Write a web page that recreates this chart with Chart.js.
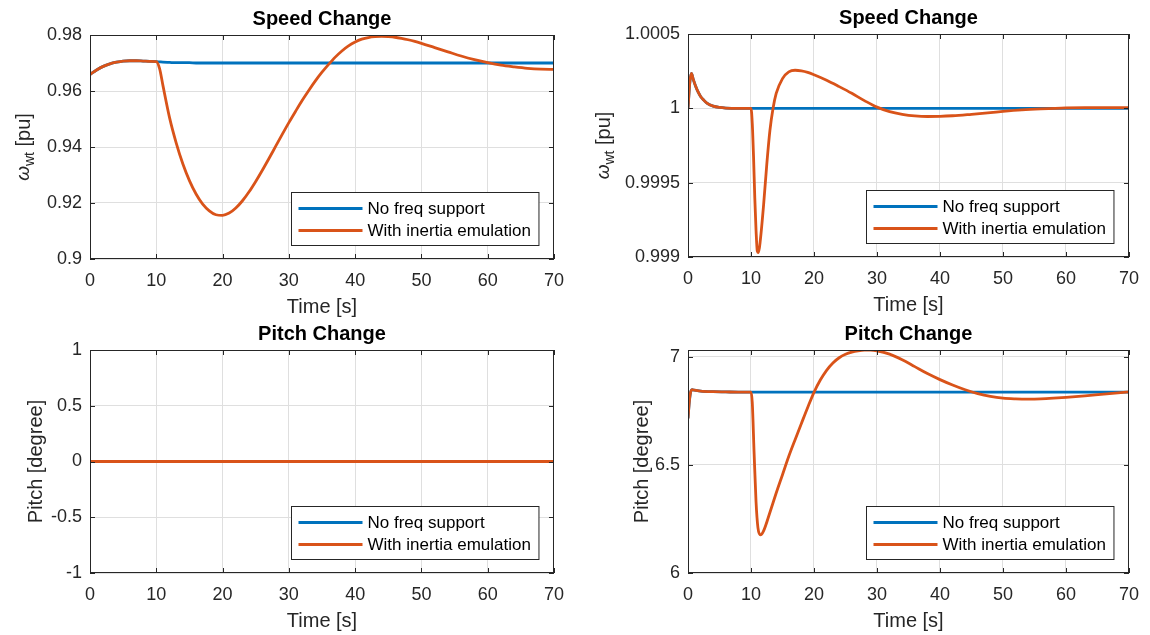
<!DOCTYPE html>
<html>
<head>
<meta charset="utf-8">
<script src="https://cdn.jsdelivr.net/npm/chart.js@4.4.1/dist/chart.umd.min.js"></script>
<style>
  html, body { margin: 0; padding: 0; background: #fff; }
  #wrap { position: relative; width: 1150px; height: 635px; }
  canvas { position: absolute; }
</style>
</head>
<body>
<div id="wrap">
  <canvas id="speedA" width="575" height="317" style="left:0;top:0"></canvas>
  <canvas id="speedB" width="575" height="317" style="left:575px;top:0"></canvas>
  <canvas id="pitchA" width="575" height="318" style="left:0;top:317px"></canvas>
  <canvas id="pitchB" width="575" height="318" style="left:575px;top:317px"></canvas>
</div>
<script>
const legendLabels = ['No freq support', 'With inertia emulation'];
const seriesColors = ['#0072BD', '#D95319'];
const xTickStep = 10;

// top left: speed change (case A)
const speedTimeA = [0, 1, 2, 3, 4, 5, 6, 7, 8, 9, 10, 10.5, 11, 12, 13, 14, 15, 16, 17, 18, 19, 20,
  21, 22, 23, 24, 25, 26, 27, 28, 29, 30, 31, 32, 33, 34, 35, 36, 37, 38, 39, 40,
  41, 42, 43, 44, 45, 46, 47, 48, 49, 50, 52, 54, 56, 58, 60, 62, 64, 66, 68, 70];
const speedNoSupportA = [0.9659, 0.9675, 0.9688, 0.9697, 0.9703, 0.9707, 0.9708, 0.9708, 0.9707, 0.9706, 0.9705,
  0.9704, 0.9703, 0.9702, 0.9701, 0.9701, 0.9701, 0.97, 0.97, 0.97, 0.97, 0.97,
  0.97, 0.97, 0.97, 0.97, 0.97, 0.97, 0.97, 0.97, 0.97, 0.97, 0.97, 0.97, 0.97, 0.97, 0.97, 0.97, 0.97, 0.97, 0.97, 0.97,
  0.97, 0.97, 0.97, 0.97, 0.97, 0.97, 0.97, 0.97, 0.97, 0.97, 0.97, 0.97, 0.97, 0.97, 0.97, 0.97, 0.97, 0.97, 0.97, 0.97];
const speedInertiaA = [0.9659, 0.9675, 0.9688, 0.9697, 0.9703, 0.9707, 0.9708, 0.9708, 0.9707, 0.9706, 0.9705,
  0.968, 0.962, 0.9505, 0.9415, 0.934, 0.928, 0.9232, 0.9196, 0.9172, 0.9158, 0.9156,
  0.9164, 0.9182, 0.9208, 0.924, 0.9277, 0.9317, 0.9359, 0.9402, 0.9445, 0.9487, 0.9527, 0.9566, 0.9602,
  0.9636, 0.9667, 0.9695, 0.9721, 0.9743, 0.9761, 0.9775, 0.9785, 0.9791, 0.9794, 0.9795, 0.9794, 0.9792,
  0.9788, 0.9783, 0.9777, 0.977, 0.9755, 0.974, 0.9725, 0.9712, 0.9701, 0.9692, 0.9686, 0.9681, 0.9678, 0.9677];

// top right: speed change (case B)
const speedTimeB = [0, 0.3, 0.55, 0.8, 1.2, 1.6, 2, 2.5, 3, 4, 5, 6, 8, 10, 10.2, 10.4, 10.6, 10.8, 11, 11.2,
  11.5, 12, 12.5, 13, 13.5, 14, 15, 16, 17, 18, 19, 20, 22, 24, 26, 28, 30, 32, 34, 36, 38, 40, 42,
  45, 48, 50, 53, 56, 60, 63, 66, 70];
const speedNoSupportB = [1.0, 1.00018, 1.000235, 1.0002, 1.00015, 1.00011, 1.00008, 1.000055, 1.000035, 1.000015,
  1.000006, 1.000002, 1.0, 1.0, 1.0, 1.0, 1.0, 1.0, 1.0, 1.0,
  1.0, 1.0, 1.0, 1.0, 1.0, 1.0, 1.0, 1.0, 1.0, 1.0, 1.0, 1.0, 1.0, 1.0, 1.0, 1.0, 1.0, 1.0, 1.0, 1.0, 1.0, 1.0, 1.0,
  1.0, 1.0, 1.0, 1.0, 1.0, 1.0, 1.0, 1.0, 1.0];
const speedInertiaB = [1.0, 1.00018, 1.000235, 1.0002, 1.00015, 1.00011, 1.00008, 1.000055, 1.000035, 1.000015,
  1.000006, 1.000002, 1.0, 1.0, 0.9999, 0.99968, 0.9994, 0.99918, 0.99904, 0.99903,
  0.99912, 0.99935, 0.99962, 0.99985, 1.0, 1.0001, 1.0002, 1.000245, 1.000256, 1.000252, 1.000242, 1.000226,
  1.000189, 1.000146, 1.000101, 1.000052, 1.000008, 0.999978, 0.99996, 0.999949, 0.999945, 0.999946, 0.99995,
  0.99996, 0.999971, 0.999979, 0.999989, 0.999996, 1.000003, 1.000005, 1.000005, 1.000004];

// bottom left: pitch change (case A)
const pitchTimeA = [0, 10, 20, 30, 40, 50, 60, 70];
const pitchNoSupportA = [0, 0, 0, 0, 0, 0, 0, 0];
const pitchInertiaA = [0, 0, 0, 0, 0, 0, 0, 0];

// bottom right: pitch change (case B)
const pitchTimeB = [0, 0.2, 0.4, 0.7, 1, 2, 4, 6, 8, 10, 10.2, 10.5, 10.8, 11.1, 11.5, 12, 13, 14, 15, 16,
  17, 18, 19, 20, 21, 22, 23, 24, 25, 26, 27, 28, 29, 30, 32, 34, 36, 38, 40, 42, 44, 46, 48, 50,
  52, 54, 56, 58, 60, 63, 66, 70];
const pitchNoSupportB = [6.715, 6.79, 6.835, 6.848, 6.846, 6.842, 6.839, 6.838, 6.837, 6.837, 6.837, 6.837,
  6.837, 6.837, 6.837, 6.837, 6.837, 6.837, 6.837, 6.837, 6.837, 6.837, 6.837, 6.837, 6.837, 6.837, 6.837,
  6.837, 6.837, 6.837, 6.837, 6.837, 6.837, 6.837, 6.837, 6.837, 6.837, 6.837, 6.837, 6.837, 6.837, 6.837,
  6.837, 6.837, 6.837, 6.837, 6.837, 6.837, 6.837, 6.837, 6.837, 6.837];
const pitchInertiaB = [6.715, 6.79, 6.835, 6.848, 6.846, 6.842, 6.839, 6.838, 6.837, 6.837, 6.79, 6.55,
  6.33, 6.21, 6.176, 6.195, 6.28, 6.37, 6.455, 6.54, 6.617, 6.692, 6.766, 6.836, 6.893, 6.938, 6.972, 6.996,
  7.012, 7.022, 7.028, 7.031, 7.031, 7.028, 7.013, 6.987, 6.955, 6.923, 6.895, 6.87, 6.848, 6.83, 6.817,
  6.809, 6.806, 6.805, 6.806, 6.809, 6.813, 6.82, 6.828, 6.838];

const FONT = '"Liberation Sans", Arial, Helvetica, sans-serif';
const INK = '#262626';

function fmt(v) { return String(+v.toFixed(6)); }

const matlabFrame = {
  id: 'matlabFrame',
  afterDatasetsDraw(chart, args, o) {
    const { ctx, chartArea: a, scales } = chart;
    ctx.save();
    // box with inward ticks on all sides
    ctx.strokeStyle = INK;
    ctx.lineWidth = 1;
    ctx.strokeRect(a.left + 0.5, a.top + 0.5, a.right - a.left - 1, a.bottom - a.top - 1);
    ctx.beginPath();
    scales.x.ticks.forEach(t => {
      const px = Math.round(scales.x.getPixelForValue(t.value)) + 0.5;
      ctx.moveTo(px, a.bottom); ctx.lineTo(px, a.bottom - 5);
      ctx.moveTo(px, a.top); ctx.lineTo(px, a.top + 5);
    });
    scales.y.ticks.forEach(t => {
      const py = Math.round(scales.y.getPixelForValue(t.value)) + 0.5;
      ctx.moveTo(a.left, py); ctx.lineTo(a.left + 5, py);
      ctx.moveTo(a.right, py); ctx.lineTo(a.right - 5, py);
    });
    ctx.stroke();

    // legend box, lower right inside the axes
    ctx.font = '17px ' + FONT;
    const textW = Math.max(...legendLabels.map(s => ctx.measureText(s).width));
    const boxW = 76 + textW + 8, boxH = 53;
    const bx = Math.round(a.right - 16 - boxW) + 0.5, by = Math.round(a.bottom - 14 - boxH) + 0.5;
    ctx.fillStyle = '#fff';
    ctx.fillRect(bx, by, boxW, boxH);
    ctx.strokeStyle = INK;
    ctx.strokeRect(bx, by, boxW, boxH);
    chart.data.datasets.forEach((ds, i) => {
      const ry = by + 16 + i * 22;
      ctx.strokeStyle = ds.borderColor;
      ctx.lineWidth = 2.8;
      ctx.beginPath();
      ctx.moveTo(bx + 7, ry); ctx.lineTo(bx + 71, ry);
      ctx.stroke();
      ctx.fillStyle = '#000';
      ctx.textAlign = 'left';
      ctx.textBaseline = 'middle';
      ctx.fillText(ds.label, bx + 76, ry + 1);
    });

    // title
    const cx = (a.left + a.right) / 2;
    ctx.fillStyle = '#000';
    ctx.textAlign = 'center';
    ctx.textBaseline = 'middle';
    ctx.font = 'bold 20px ' + FONT;
    ctx.fillText(o.title, cx, a.top - 16);

    // x axis title
    ctx.fillStyle = INK;
    ctx.font = '20px ' + FONT;
    ctx.fillText('Time [s]', cx, a.bottom + 48);

    // y axis title (rotated)
    const cy = (a.top + a.bottom) / 2;
    ctx.translate(a.left - o.yLabelOffset, cy);
    ctx.rotate(-Math.PI / 2);
    ctx.textAlign = 'left';
    ctx.textBaseline = 'middle';
    if (o.omega) {
      const parts = [
        { t: '\u03C9', f: 'italic 19px ' + FONT, dy: 0 },
        { t: 'wt', f: '14px ' + FONT, dy: 6 },
        { t: ' [pu]', f: '20px ' + FONT, dy: 0 }
      ];
      let total = 0;
      parts.forEach(p => { ctx.font = p.f; p.w = ctx.measureText(p.t).width; total += p.w; });
      let x = -total / 2;
      parts.forEach(p => { ctx.font = p.f; ctx.fillText(p.t, x, p.dy); x += p.w; });
    } else {
      ctx.textAlign = 'center';
      ctx.fillText(o.yLabel, 0, 0);
    }
    ctx.restore();
  }
};

function makeChart(id, c) {
  const toPoints = (xs, ys) => xs.map((x, i) => ({ x: x, y: ys[i] }));
  return new Chart(document.getElementById(id), {
    type: 'line',
    data: {
      datasets: [
        { label: legendLabels[0], data: toPoints(c.times, c.blue), borderColor: seriesColors[0],
          borderWidth: 2.8, pointRadius: 0, cubicInterpolationMode: 'monotone', order: 2 },
        { label: legendLabels[1], data: toPoints(c.times, c.orange), borderColor: seriesColors[1],
          borderWidth: 2.8, pointRadius: 0, cubicInterpolationMode: 'monotone', order: 1 }
      ]
    },
    options: {
      responsive: false,
      animation: false,
      events: [],
      layout: { padding: { top: c.padTop, right: c.padRight, left: 0, bottom: 0 } },
      plugins: {
        legend: { display: false },
        tooltip: { enabled: false },
        title: { display: false },
        matlabFrame: { title: c.title, yLabel: c.yLabel, omega: c.omega, yLabelOffset: c.yLabelOffset }
      },
      scales: {
        x: {
          type: 'linear', min: 0, max: 70,
          grid: { color: '#dfdfdf', drawTicks: false },
          border: { display: false },
          ticks: { stepSize: xTickStep, padding: 11, color: INK, font: { family: FONT, size: 18 },
            maxRotation: 0, callback: fmt },
          afterFit: s => { s.height = c.xAxisH; }
        },
        y: {
          type: 'linear', min: c.yMin, max: c.yMax,
          grid: { color: '#dfdfdf', drawTicks: false },
          border: { display: false },
          ticks: { stepSize: c.yStep, includeBounds: false, padding: 8, color: INK,
            font: { family: FONT, size: 18 }, callback: fmt },
          afterFit: s => { s.width = c.yAxisW; }
        }
      }
    },
    plugins: [matlabFrame]
  });
}

makeChart('speedA', {
  times: speedTimeA, blue: speedNoSupportA, orange: speedInertiaA,
  yMin: 0.9, yMax: 0.98, yStep: 0.02,
  padTop: 35, padRight: 21, yAxisW: 90, xAxisH: 58,
  title: 'Speed Change', omega: true, yLabelOffset: 66
});
makeChart('speedB', {
  times: speedTimeB, blue: speedNoSupportB, orange: speedInertiaB,
  yMin: 0.999, yMax: 1.0005, yStep: 0.0005,
  padTop: 34, padRight: 18, yAxisW: 113, xAxisH: 60,
  title: 'Speed Change', omega: true, yLabelOffset: 84
});
makeChart('pitchA', {
  times: pitchTimeA, blue: pitchNoSupportA, orange: pitchInertiaA,
  yMin: -1, yMax: 1, yStep: 0.5,
  padTop: 33, padRight: 21, yAxisW: 90, xAxisH: 62,
  title: 'Pitch Change', yLabel: 'Pitch [degree]', yLabelOffset: 54
});
makeChart('pitchB', {
  times: pitchTimeB, blue: pitchNoSupportB, orange: pitchInertiaB,
  yMin: 6, yMax: 7.032, yStep: 0.5,
  padTop: 33, padRight: 18, yAxisW: 113, xAxisH: 62,
  title: 'Pitch Change', yLabel: 'Pitch [degree]', yLabelOffset: 46
});
</script>
</body>
</html>
